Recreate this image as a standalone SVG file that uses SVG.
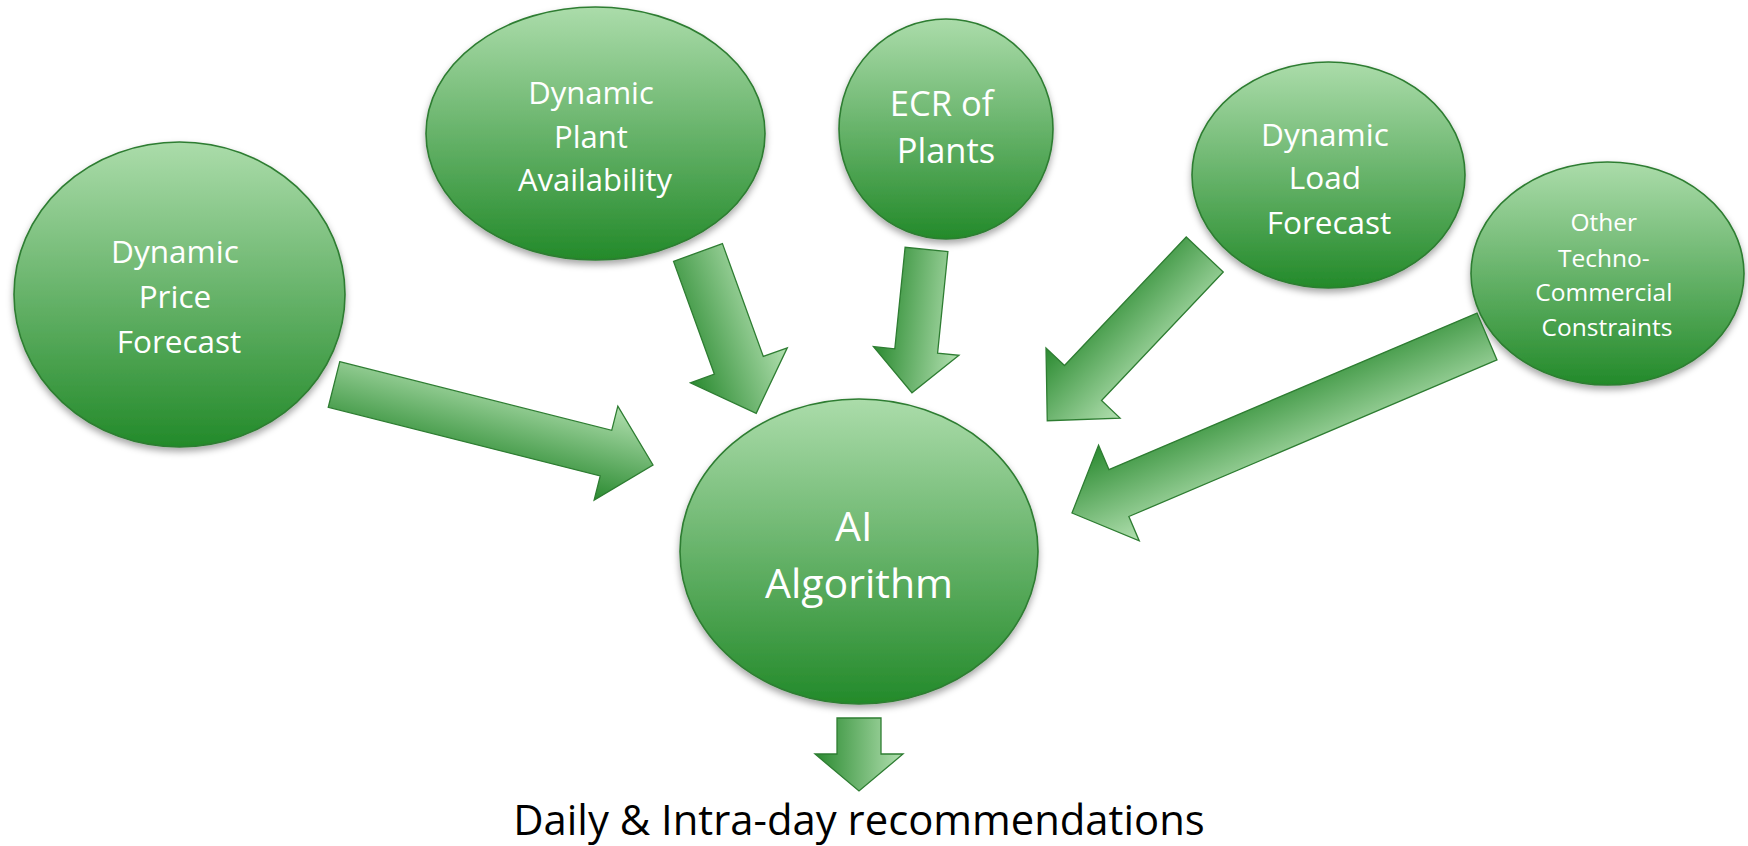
<svg xmlns="http://www.w3.org/2000/svg" width="1748" height="846" viewBox="0 0 1748 846">
  <defs>
    <linearGradient id="ballFill" x1="0" y1="0" x2="0" y2="1">
      <stop offset="0" stop-color="#abdcaa"/>
      <stop offset="1" stop-color="#238a2a"/>
    </linearGradient>
    <linearGradient id="arrowFill" x1="0" y1="0" x2="0" y2="1">
      <stop offset="0" stop-color="#b2e0b0"/>
      <stop offset="1" stop-color="#2a8a30"/>
    </linearGradient>
    <filter id="shadow" x="-10%" y="-10%" width="120%" height="125%">
      <feDropShadow dx="0" dy="4" stdDeviation="3.5" flood-color="#000" flood-opacity="0.35"/>
    </filter>
  </defs>
  <style>
    .ball { fill: url(#ballFill); stroke: #2e7d32; stroke-width: 1.6; filter: url(#shadow); }
    .arrow { fill: url(#arrowFill); stroke: #2e7d32; stroke-width: 1.3; stroke-linejoin: miter; }
    .lbl { font-family: "Open Sans", "Liberation Sans", sans-serif; fill: #ffffff; text-anchor: middle; }
    .caption { font-family: "Open Sans", "Liberation Sans", sans-serif; fill: #000000; text-anchor: middle; font-size: 41.8px; }
  </style>

  <rect width="1748" height="846" fill="#ffffff"/>

  <!-- input and output nodes -->
  <g id="node-price">
    <ellipse class="ball" cx="179.5" cy="294.5" rx="165.5" ry="152.5"/>
    <text class="lbl" font-size="31.5">
      <tspan x="179" y="263">Dynamic</tspan>
      <tspan x="179" y="308">Price</tspan>
      <tspan x="179" y="353">Forecast</tspan>
    </text>
  </g>

  <g id="node-plant">
    <ellipse class="ball" cx="595.5" cy="133.5" rx="169.5" ry="126.5"/>
    <text class="lbl" font-size="31">
      <tspan x="595" y="104">Dynamic</tspan>
      <tspan x="595" y="148">Plant</tspan>
      <tspan x="595" y="191">Availability</tspan>
    </text>
  </g>

  <g id="node-ecr">
    <ellipse class="ball" cx="946" cy="129" rx="107" ry="110"/>
    <text class="lbl" font-size="34.5">
      <tspan x="946" y="116">ECR of</tspan>
      <tspan x="946" y="163">Plants</tspan>
    </text>
  </g>

  <g id="node-load">
    <ellipse class="ball" cx="1328.5" cy="175" rx="136.5" ry="113"/>
    <text class="lbl" font-size="31.5">
      <tspan x="1329" y="146">Dynamic</tspan>
      <tspan x="1329" y="189">Load</tspan>
      <tspan x="1329" y="234">Forecast</tspan>
    </text>
  </g>

  <g id="node-other">
    <ellipse class="ball" cx="1607.5" cy="273.5" rx="136.5" ry="111.5"/>
    <text class="lbl" font-size="24.5">
      <tspan x="1607" y="231">Other</tspan>
      <tspan x="1607" y="267">Techno-</tspan>
      <tspan x="1607" y="301">Commercial</tspan>
      <tspan x="1607" y="336">Constraints</tspan>
    </text>
  </g>

  <g id="node-ai">
    <ellipse class="ball" cx="859" cy="551.5" rx="179" ry="152.5"/>
    <text class="lbl" font-size="41">
      <tspan x="859" y="541">AI</tspan>
      <tspan x="859" y="598">Algorithm</tspan>
    </text>
  </g>

  <!-- block arrows: each is a right-pointing arrow, tail centre at the origin, rotated into place -->
  <g id="connectors">
    <path class="arrow" transform="translate(334 384.5) rotate(14.16)" d="M0,-23.5 L280.5,-23.5 L280.5,-48.5 L329,0 L280.5,48.5 L280.5,23.5 L0,23.5 Z"/>
    <path class="arrow" transform="translate(698 252.5) rotate(70.1)" d="M0,-26 L120,-26 L120,-51.5 L171,0 L120,51.5 L120,26 L0,26 Z"/>
    <path class="arrow" transform="translate(926.5 249.5) rotate(95.8)" d="M0,-21.5 L102,-21.5 L102,-43 L144,0 L102,43 L102,21.5 L0,21.5 Z"/>
    <path class="arrow" transform="translate(1204.75 254.5) rotate(133.45)" d="M0,-25.5 L177,-25.5 L177,-51 L229,0 L177,51 L177,25.5 L0,25.5 Z"/>
    <path class="arrow" transform="translate(1487 336.5) rotate(156.96)" d="M0,-25.5 L400,-25.5 L400,-52 L451,0 L400,52 L400,25.5 L0,25.5 Z"/>
    <path class="arrow" transform="translate(859 718) rotate(90)" d="M0,-22 L36,-22 L36,-44 L73,0 L36,44 L36,22 L0,22 Z"/>
  </g>

  <g id="caption">
    <text class="caption" x="859" y="835">Daily &amp; Intra-day recommendations</text>
  </g>
</svg>
